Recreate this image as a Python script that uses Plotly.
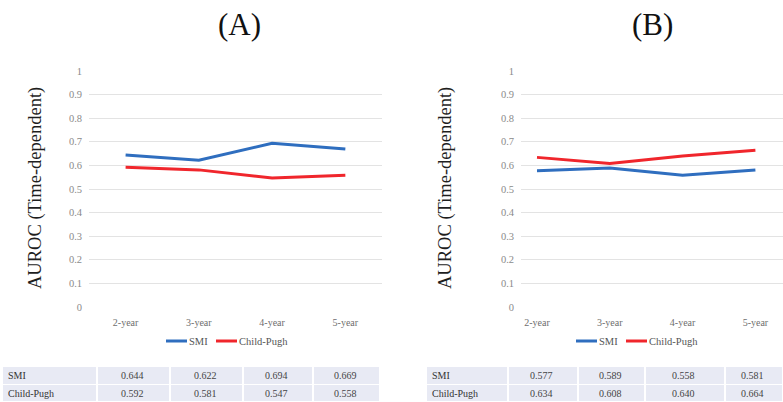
import plotly.graph_objects as go

# ---- data ----
years = ["2-year", "3-year", "4-year", "5-year"]
series_names = ["SMI", "Child-Pugh"]
smi_a = [0.644, 0.622, 0.694, 0.669]
cp_a = [0.592, 0.581, 0.547, 0.558]
smi_b = [0.577, 0.589, 0.558, 0.581]
cp_b = [0.634, 0.608, 0.640, 0.664]
panel_titles = ["(A)", "(B)"]
y_title = "AUROC (Time-dependent)"
y_ticks = [0, 0.1, 0.2, 0.3, 0.4, 0.5, 0.6, 0.7, 0.8, 0.9, 1]

W, H = 783, 402
BLUE = "#2F6EBF"
RED = "#F0262C"
SERIF = "Liberation Serif"
CELL_BG = "#E8EAF4"


def px(x):
    return x / W


def py(y):
    return 1 - y / H


# plot-area geometry (pixels)
plot_top, plot_bottom = 71, 307
panels = [
    dict(grid=(89, 382), cat0=125.6, cat_w=73.25, xaxis="x", yaxis="y",
         smi=smi_a, cp=cp_a, title_x=240, ytitle_x=35,
         table=[3, 97, 170, 243, 313, 380], legend_x=166),
    dict(grid=(521, 783), cat0=537, cat_w=72.8, xaxis="x2", yaxis="y2",
         smi=smi_b, cp=cp_b, title_x=652, ytitle_x=445,
         table=[427, 508, 578, 645, 725, 783], legend_x=576),
]

fig = go.Figure()
shapes = []
annotations = []


def label(x, y, text, size, color, xanchor="center", angle=0):
    annotations.append(dict(x=px(x), y=py(y), xref="paper", yref="paper",
                            xanchor=xanchor, yanchor="middle", text=text,
                            textangle=angle, showarrow=False,
                            font=dict(family=SERIF, size=size, color=color)))


for i, p in enumerate(panels):
    g0, g1 = p["grid"]
    rng = [(g0 - p["cat0"]) / p["cat_w"], (g1 - p["cat0"]) / p["cat_w"]]
    for name, vals, col in ((series_names[0], p["smi"], BLUE), (series_names[1], p["cp"], RED)):
        fig.add_trace(go.Scatter(
            x=list(range(len(years))), y=vals, mode="lines", name=name,
            line=dict(color=col, width=3), xaxis=p["xaxis"], yaxis=p["yaxis"],
            showlegend=False, hoverinfo="skip",
        ))
    suffix = "" if i == 0 else "2"
    fig.layout["xaxis" + suffix] = dict(
        domain=[px(g0), px(g1)], range=rng,
        tickmode="array", tickvals=list(range(len(years))), ticktext=years,
        showgrid=False, zeroline=False, showline=False, ticks="",
        ticklabelstandoff=8, automargin=False,
        tickfont=dict(family=SERIF, size=10, color="#6E6E6E"),
        anchor="y" + suffix, fixedrange=True,
    )
    fig.layout["yaxis" + suffix] = dict(
        domain=[py(plot_bottom), py(plot_top)], range=[0, 1],
        tickmode="array", tickvals=y_ticks, ticktext=[f"{v:g}" for v in y_ticks],
        showgrid=True, gridcolor="#E3E3E3", gridwidth=1, zeroline=False,
        showline=False, ticks="", ticklabelstandoff=6, automargin=False,
        tickfont=dict(family=SERIF, size=10.5, color="#8A8A8A"),
        anchor="x" + suffix, fixedrange=True,
    )

    # panel letter and y-axis title
    label(p["title_x"], 25, panel_titles[i], 31, "#111111")
    label(p["ytitle_x"], 188, y_title, 18.5, "#1E1E1E", angle=-90)

    # legend
    lx = p["legend_x"]
    for name, col, seg0 in ((series_names[0], BLUE, lx), (series_names[1], RED, lx + 50)):
        shapes.append(dict(type="line", xref="paper", yref="paper",
                           x0=px(seg0), x1=px(seg0 + 21), y0=py(341), y1=py(341),
                           line=dict(color=col, width=3)))
        label(seg0 + 21, 341, name, 10.5, "#555555", xanchor="left")

    # data table below the chart
    cols = p["table"]
    rows = [(367, 384, series_names[0], p["smi"]), (385, 401, series_names[1], p["cp"])]
    for (r0, r1, row_name, vals) in rows:
        for c in range(len(cols) - 1):
            shapes.append(dict(type="rect", xref="paper", yref="paper",
                               x0=px(cols[c] + (0 if c == 0 else 1)), x1=px(cols[c + 1] - 1),
                               y0=py(r1), y1=py(r0), fillcolor=CELL_BG,
                               line=dict(width=0), layer="below"))
        ym = (r0 + r1) / 2
        label(cols[0] + 3, ym, row_name, 10, "#333333", xanchor="left")
        for c, v in enumerate(vals):
            cx = (cols[c + 1] + cols[c + 2]) / 2 - 1.5
            label(cx, ym, f"{v:.3f}", 10, "#444444")

fig.update_layout(
    width=W, height=H, autosize=False, margin=dict(l=0, r=0, t=0, b=0, pad=0),
    paper_bgcolor="white", plot_bgcolor="white",
    shapes=shapes, annotations=annotations, showlegend=False,
)

fig.write_html("out.html", config={"displayModeBar": False, "responsive": False})
